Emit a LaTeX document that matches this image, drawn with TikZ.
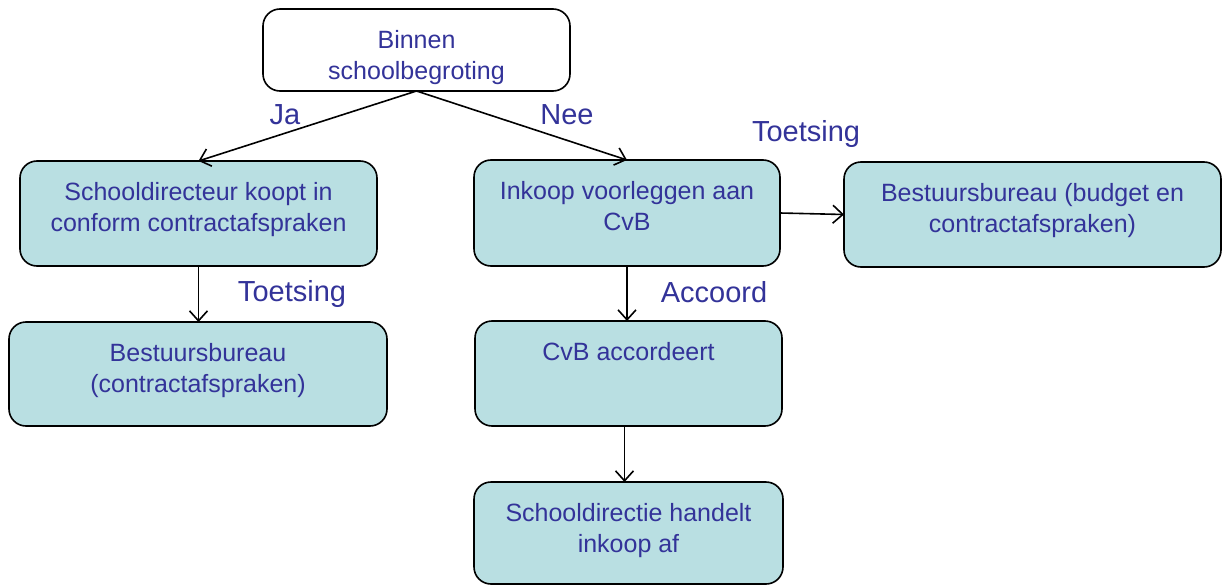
\documentclass[tikz,border=0pt]{standalone}
\usepackage{fontspec}
\setmainfont{Liberation Sans}
\usetikzlibrary{positioning,arrows.meta}
\definecolor{c333399}{RGB}{51,51,153}
\definecolor{cb9dfe2}{RGB}{185,223,226}

\begin{document}
\begin{tikzpicture}[y=1pt, x=1pt, yscale=-1, inner sep=0pt, outer sep=0pt,
  blok/.style={draw=black, line width=1.6pt, rounded corners=17pt},
  tekst/.style={text=c333399, align=center, font=\fontsize{25}{31}\selectfont},
  pijltekst/.style={text=c333399, font=\fontsize{29}{34}\selectfont},
  pijl/.style={draw=black, line width=1.6pt, -{Straight Barb[length=10pt,width=18pt]}}]

  \useasboundingbox (0,0) rectangle (1229,586);

  % boxes
  \node[blok, fill=white, minimum width=307, minimum height=82] (binnen) at (416.5,50) {};
  \node[blok, fill=cb9dfe2, minimum width=357, minimum height=105] (koopt) at (198.5,213.5) {};
  \node[blok, fill=cb9dfe2, minimum width=378, minimum height=104] (contract) at (198,374) {};
  \node[blok, fill=cb9dfe2, minimum width=306, minimum height=106] (inkoop) at (627,213) {};
  \node[blok, fill=cb9dfe2, minimum width=377, minimum height=105] (budget) at (1032.5,214.5) {};
  \node[blok, fill=cb9dfe2, minimum width=307, minimum height=105] (accord) at (628.5,373.5) {};
  \node[blok, fill=cb9dfe2, minimum width=309, minimum height=102] (afhandel) at (628.5,533) {};

  % box texts
  \node[tekst, below=21pt of binnen.north] (binnentekst) {Binnen\\schoolbegroting};
  \node[tekst, below=21pt of koopt.north] (kooptekst) {Schooldirecteur koopt in\\conform contractafspraken};
  \node[tekst, below=21pt of contract.north] (contracttekst) {Bestuursbureau\\(contractafspraken)};
  \node[tekst, below=21pt of inkoop.north] (inkooptekst) {Inkoop voorleggen aan\\CvB};
  \node[tekst, below=21pt of budget.north] (budgettekst) {Bestuursbureau (budget en\\contractafspraken)};
  \node[tekst, below=21pt of accord.north] (accordtekst) {CvB accordeert};
  \node[tekst, below=21pt of afhandel.north] (afhandeltekst) {Schooldirectie handelt\\inkoop af};

  % connectors
  \draw[pijl] (binnen.south) -- (koopt.north);
  \draw[pijl] (binnen.south) -- (inkoop.north);
  \draw[pijl] (koopt.south) -- (koopt.south |- contract.north);
  \draw[pijl] (inkoop.south) -- (inkoop.south |- accord.north);
  \draw[pijl] ([xshift=-4pt]accord.south) -- ([xshift=-4pt]accord.south |- afhandel.north);
  \draw[pijl] (inkoop.east) -- (budget.west);

  % labels
  \node[pijltekst] (ja) at (285,115) {Ja};
  \node[pijltekst] (nee) at (567,115) {Nee};
  \node[pijltekst] (toetsing1) at (806,134) {Toetsing};
  \node[pijltekst] (toetsing2) at (292,294) {Toetsing};
  \node[pijltekst] (akkoord) at (714,292) {Accoord};

\end{tikzpicture}
\end{document}
